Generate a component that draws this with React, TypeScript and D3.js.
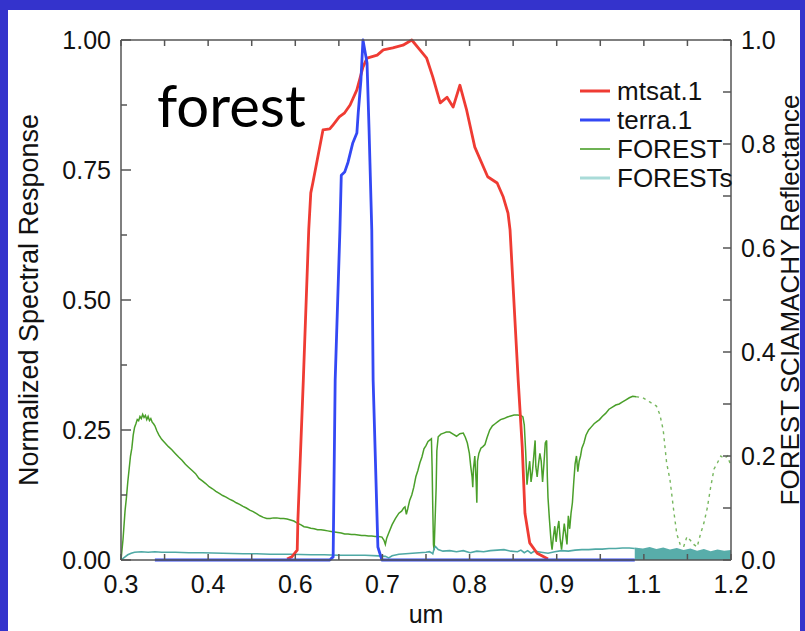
import React from "react";
import * as d3 from "d3";

// ---------- data ----------
const X_DOMAIN: [number, number] = [0.3, 1.2];
const X_TICK_LABELS = ["0.3", "0.4", "0.6", "0.7", "0.8", "0.9", "1.1", "1.2"];
const Y_LEFT_LABELS = ["0.00", "0.25", "0.50", "0.75", "1.00"];
const Y_RIGHT_LABELS = ["0.0", "0.2", "0.4", "0.6", "0.8", "1.0"];
const LEGEND_NAMES = ["mtsat.1", "terra.1", "FOREST", "FORESTs"];

// mtsat.1 normalized spectral response [um, value]
const MTSAT: [number, number][] = [
  [0.545, 0.002], [0.552, 0.006], [0.56, 0.019], [0.561, 0.077], [0.569, 0.346],
  [0.577, 0.635], [0.58, 0.706], [0.583, 0.725], [0.598, 0.827], [0.608, 0.829],
  [0.613, 0.837], [0.622, 0.852], [0.63, 0.86], [0.638, 0.875], [0.648, 0.904],
  [0.657, 0.948], [0.663, 0.965], [0.678, 0.971], [0.687, 0.981], [0.701, 0.985],
  [0.716, 0.99], [0.729, 1.0], [0.741, 0.981], [0.751, 0.965], [0.76, 0.929],
  [0.771, 0.879], [0.781, 0.89], [0.79, 0.871], [0.8, 0.913], [0.81, 0.865],
  [0.822, 0.794], [0.841, 0.737], [0.855, 0.725], [0.864, 0.698], [0.871, 0.667],
  [0.874, 0.635], [0.886, 0.346], [0.892, 0.217], [0.896, 0.09], [0.903, 0.033],
  [0.914, 0.013], [0.93, 0.002],
];

// terra.1 normalized spectral response [um, value]
const TERRA: [number, number][] = [
  [0.35, 0], [0.608, 0], [0.613, 0.006], [0.616, 0.346], [0.623, 0.635],
  [0.625, 0.74], [0.63, 0.746], [0.635, 0.765], [0.642, 0.802], [0.648, 0.821],
  [0.65, 0.86], [0.654, 0.923], [0.657, 1.0], [0.663, 0.956], [0.666, 0.827],
  [0.67, 0.635], [0.672, 0.346], [0.679, 0.025], [0.685, 0], [1.058, 0],
];

// FOREST reflectance [um, value]
const FOREST: [number, number][] = [
  [0.3, 0.0], [0.303, 0.04], [0.306, 0.095], [0.308, 0.12], [0.31, 0.15], [0.312, 0.175],
  [0.314, 0.2], [0.316, 0.215], [0.318, 0.24], [0.32, 0.255], [0.322, 0.262], [0.324, 0.27],
  [0.326, 0.268], [0.328, 0.276], [0.33, 0.272], [0.332, 0.28], [0.334, 0.274], [0.336, 0.278],
  [0.338, 0.27], [0.34, 0.276], [0.342, 0.268], [0.344, 0.272], [0.346, 0.265], [0.348, 0.262],
  [0.35, 0.258], [0.353, 0.248], [0.356, 0.24], [0.36, 0.232], [0.365, 0.225], [0.37, 0.218],
  [0.375, 0.212], [0.38, 0.205], [0.385, 0.198], [0.39, 0.192], [0.395, 0.184], [0.4, 0.178],
  [0.405, 0.172], [0.41, 0.166], [0.415, 0.157], [0.42, 0.152], [0.425, 0.147], [0.43, 0.141],
  [0.435, 0.137], [0.44, 0.132], [0.445, 0.128], [0.45, 0.124], [0.455, 0.121], [0.46, 0.117],
  [0.465, 0.114], [0.47, 0.11], [0.475, 0.107], [0.48, 0.103], [0.485, 0.1], [0.49, 0.096],
  [0.495, 0.093], [0.5, 0.089], [0.505, 0.085], [0.51, 0.082], [0.515, 0.08], [0.52, 0.08],
  [0.525, 0.081], [0.53, 0.081], [0.535, 0.08], [0.54, 0.08], [0.545, 0.079], [0.55, 0.077],
  [0.555, 0.075], [0.56, 0.071], [0.565, 0.068], [0.57, 0.064], [0.575, 0.063], [0.58, 0.061],
  [0.585, 0.06], [0.59, 0.058], [0.595, 0.058], [0.6, 0.057], [0.605, 0.056], [0.61, 0.055],
  [0.615, 0.054], [0.62, 0.053], [0.625, 0.052], [0.63, 0.05], [0.635, 0.05], [0.64, 0.049],
  [0.645, 0.049], [0.65, 0.048], [0.655, 0.047], [0.66, 0.047], [0.665, 0.046], [0.67, 0.046],
  [0.675, 0.045], [0.68, 0.045], [0.685, 0.044], [0.688, 0.038], [0.69, 0.03], [0.692, 0.042],
  [0.695, 0.052], [0.7, 0.068], [0.705, 0.08], [0.71, 0.09], [0.714, 0.094], [0.717, 0.1],
  [0.719, 0.102], [0.721, 0.088], [0.723, 0.098], [0.726, 0.115], [0.729, 0.125], [0.732, 0.14],
  [0.735, 0.16], [0.738, 0.172], [0.741, 0.187], [0.744, 0.198], [0.747, 0.214], [0.75, 0.22],
  [0.753, 0.228], [0.756, 0.231], [0.758, 0.233], [0.759, 0.18], [0.76, 0.1], [0.761, 0.03],
  [0.762, 0.019], [0.763, 0.06], [0.765, 0.14], [0.766, 0.21], [0.768, 0.237], [0.772, 0.242],
  [0.776, 0.244], [0.78, 0.246], [0.785, 0.246], [0.79, 0.242], [0.795, 0.238], [0.8, 0.243],
  [0.805, 0.244], [0.808, 0.236], [0.811, 0.225], [0.814, 0.205], [0.816, 0.18], [0.818, 0.16],
  [0.819, 0.14], [0.82, 0.175], [0.822, 0.2], [0.824, 0.15], [0.825, 0.11], [0.826, 0.19],
  [0.828, 0.205], [0.831, 0.215], [0.834, 0.218], [0.837, 0.222], [0.84, 0.235], [0.844, 0.25],
  [0.848, 0.258], [0.852, 0.262], [0.856, 0.266], [0.86, 0.27], [0.865, 0.272], [0.87, 0.275],
  [0.875, 0.277], [0.88, 0.279], [0.885, 0.279], [0.89, 0.278], [0.893, 0.275], [0.895, 0.26],
  [0.897, 0.21], [0.899, 0.145], [0.901, 0.17], [0.903, 0.19], [0.905, 0.15], [0.907, 0.17],
  [0.909, 0.2], [0.911, 0.23], [0.912, 0.18], [0.914, 0.16], [0.916, 0.185], [0.918, 0.205],
  [0.92, 0.19], [0.922, 0.15], [0.924, 0.185], [0.926, 0.225], [0.928, 0.23], [0.929, 0.16],
  [0.93, 0.12], [0.932, 0.08], [0.934, 0.045], [0.935, 0.03], [0.936, 0.02], [0.938, 0.045],
  [0.94, 0.065], [0.942, 0.035], [0.944, 0.06], [0.946, 0.075], [0.948, 0.04], [0.95, 0.02],
  [0.952, 0.045], [0.954, 0.07], [0.956, 0.05], [0.958, 0.03], [0.96, 0.085], [0.962, 0.06],
  [0.964, 0.09], [0.966, 0.11], [0.968, 0.15], [0.97, 0.185], [0.972, 0.2], [0.974, 0.17],
  [0.976, 0.19], [0.978, 0.2], [0.98, 0.215], [0.983, 0.225], [0.986, 0.24], [0.99, 0.25],
  [0.994, 0.256], [0.998, 0.262], [1.002, 0.266], [1.006, 0.27], [1.01, 0.276], [1.015, 0.282],
  [1.02, 0.29], [1.025, 0.294], [1.03, 0.298], [1.035, 0.3], [1.04, 0.304], [1.045, 0.308],
  [1.05, 0.312], [1.055, 0.315], [1.06, 0.314],
];

// FOREST reflectance, sparse (gappy) part
const FOREST_SPARSE: [number, number][] = [
  [1.06, 0.314], [1.07, 0.312], [1.08, 0.304], [1.09, 0.296], [1.095, 0.28], [1.1, 0.25],
  [1.105, 0.187], [1.11, 0.154], [1.115, 0.1], [1.12, 0.05], [1.125, 0.03], [1.13, 0.025],
  [1.135, 0.045], [1.14, 0.038], [1.145, 0.03], [1.15, 0.025], [1.155, 0.05], [1.16, 0.071],
  [1.165, 0.1], [1.17, 0.14], [1.175, 0.175], [1.18, 0.187], [1.185, 0.2], [1.19, 0.195],
  [1.195, 0.2], [1.2, 0.18],
];

// FORESTs reflectance [um, value]
const FORESTS: [number, number][] = [
  [0.3, 0.0], [0.305, 0.005], [0.31, 0.01], [0.315, 0.013], [0.32, 0.015], [0.33, 0.016],
  [0.34, 0.015], [0.35, 0.016], [0.36, 0.015], [0.38, 0.015], [0.4, 0.014], [0.42, 0.014],
  [0.45, 0.013], [0.48, 0.012], [0.5, 0.012], [0.52, 0.011], [0.55, 0.011], [0.58, 0.01],
  [0.6, 0.01], [0.62, 0.009], [0.64, 0.009], [0.66, 0.009], [0.68, 0.008], [0.69, 0.007],
  [0.695, 0.004], [0.7, 0.008], [0.71, 0.011], [0.72, 0.012], [0.73, 0.013], [0.74, 0.014],
  [0.75, 0.015], [0.755, 0.016], [0.758, 0.014], [0.76, 0.012], [0.762, 0.022], [0.764, 0.026],
  [0.768, 0.02], [0.775, 0.017], [0.785, 0.018], [0.795, 0.016], [0.805, 0.018], [0.815, 0.014],
  [0.825, 0.017], [0.835, 0.016], [0.845, 0.018], [0.855, 0.019], [0.865, 0.02], [0.875, 0.017],
  [0.885, 0.016], [0.89, 0.019], [0.895, 0.014], [0.9, 0.018], [0.905, 0.013], [0.91, 0.017],
  [0.92, 0.015], [0.93, 0.013], [0.94, 0.016], [0.95, 0.018], [0.96, 0.017], [0.97, 0.019],
  [0.98, 0.02], [0.99, 0.02], [1.0, 0.021], [1.01, 0.021], [1.02, 0.022], [1.03, 0.022],
  [1.04, 0.023], [1.05, 0.023], [1.058, 0.022],
];

// FORESTs noisy band (upper envelope) beyond 1.058 um
const FORESTS_BAND: [number, number][] = [
  [1.058, 0.024], [1.07, 0.022], [1.08, 0.025], [1.09, 0.021], [1.1, 0.024], [1.11, 0.02],
  [1.12, 0.023], [1.13, 0.019], [1.14, 0.022], [1.15, 0.018], [1.16, 0.021], [1.17, 0.017],
  [1.18, 0.02], [1.19, 0.018], [1.2, 0.019],
];

// ---------- layout ----------
const W = 805;
const H = 631;
const L = 121, R = 731, T = 40, B = 560;

const COLORS = {
  red: "#ef3b33",
  blue: "#3348f4",
  green: "#4a9f2a",
  teal: "#4fa9a5",
  tealLegend: "#a9dbd8",
  frame: "#3433cc",
  axis: "#555555",
};

const FONT = "'Liberation Sans', Arial, Helvetica, sans-serif";

export default function App() {
  const x = d3.scaleLinear().domain(X_DOMAIN).range([L, R]);
  const yL = d3.scaleLinear().domain([0, 1]).range([B, T]);
  const yR = d3.scaleLinear().domain([0, 1]).range([B, T]);

  const lineL = d3.line<[number, number]>().x((d) => x(d[0])).y((d) => yL(d[1]));
  const lineR = d3.line<[number, number]>().x((d) => x(d[0])).y((d) => yR(d[1]));
  const areaR = d3
    .area<[number, number]>()
    .x((d) => x(d[0]))
    .y0(() => yR(0))
    .y1((d) => yR(d[1]));

  const nX = (X_TICK_LABELS.length - 1) * 2;
  const xTicks = d3.range(nX + 1).map((i) => X_DOMAIN[0] + (i * (X_DOMAIN[1] - X_DOMAIN[0])) / nX);
  const yLTicks = d3.range(9).map((i) => i * 0.125);
  const yRTicks = d3.range(11).map((i) => i * 0.1);

  const legendColors = [COLORS.red, COLORS.blue, COLORS.green, COLORS.tealLegend];
  const legendWidths = [3, 3, 1.6, 3];

  return (
    <svg
      width={W}
      height={H}
      style={{ position: "absolute", left: 0, top: 0, display: "block" }}
      fontFamily={FONT}
    >
      {/* frame */}
      <rect x={0} y={0} width={W} height={H} fill={COLORS.frame} />
      <rect x={8} y={10} width={W - 8 - 5} height={H - 10} fill="#ffffff" />

      {/* data */}
      <path d={lineR(FOREST) || ""} fill="none" stroke={COLORS.green} strokeWidth={1.5} />
      <path
        d={lineR(FOREST_SPARSE) || ""}
        fill="none"
        stroke={COLORS.green}
        strokeWidth={1.4}
        strokeDasharray="3 4"
        opacity={0.75}
      />
      <path d={areaR(FORESTS_BAND) || ""} fill={COLORS.teal} opacity={0.95} />
      <path d={lineR(FORESTS) || ""} fill="none" stroke={COLORS.teal} strokeWidth={1.6} />
      <path d={lineL(MTSAT) || ""} fill="none" stroke={COLORS.red} strokeWidth={2.8} strokeLinejoin="round" />
      <path d={lineL(TERRA) || ""} fill="none" stroke={COLORS.blue} strokeWidth={2.8} strokeLinejoin="round" />

      {/* axes box */}
      <g stroke={COLORS.axis} strokeWidth={1.5} fill="none">
        <line x1={L} y1={T} x2={R} y2={T} />
        <line x1={L} y1={B} x2={R} y2={B} />
        <line x1={L} y1={T} x2={L} y2={B} />
        <line x1={R} y1={T} x2={R} y2={B} />
        {xTicks.map((v, i) => (
          <g key={"xt" + i}>
            <line x1={x(v)} x2={x(v)} y1={B} y2={B - 6} />
            <line x1={x(v)} x2={x(v)} y1={T} y2={T + 6} />
          </g>
        ))}
        {yLTicks.map((v, i) => (
          <line key={"yl" + i} x1={L} x2={L + (i % 2 === 0 ? 10 : 6)} y1={yL(v)} y2={yL(v)} />
        ))}
        {yRTicks.map((v, i) => (
          <line key={"yr" + i} x1={R} x2={R - 8} y1={yR(v)} y2={yR(v)} />
        ))}
      </g>

      {/* tick labels */}
      <g fontSize={25} fill="#111">
        {X_TICK_LABELS.map((s, i) => (
          <text key={"xl" + i} x={x(xTicks[i * 2])} y={593} textAnchor="middle">
            {s}
          </text>
        ))}
        {Y_LEFT_LABELS.map((s, i) => (
          <text key={"yll" + i} x={111} y={yL(i * 0.25) + 9} textAnchor="end">
            {s}
          </text>
        ))}
        {Y_RIGHT_LABELS.map((s, i) => (
          <text key={"yrl" + i} x={741} y={yR(i * 0.2) + 9} textAnchor="start">
            {s}
          </text>
        ))}
      </g>

      {/* axis titles */}
      <text x={(L + R) / 2 + 0} y={623} fontSize={25} textAnchor="middle" fill="#111">
        um
      </text>
      <text
        transform="translate(38,300) rotate(-90)"
        fontSize={27}
        textAnchor="middle"
        fill="#111"
      >
        Normalized Spectral Response
      </text>
      <text
        transform="translate(799,300) rotate(-90)"
        fontSize={26}
        textAnchor="middle"
        fill="#111"
      >
        FOREST SCIAMACHY Reflectance
      </text>

      {/* annotation */}
      <text
        x={157}
        y={127}
        fontSize={58}
        fontFamily="Lato, 'Open Sans', sans-serif"
        fill="#000"
      >
        forest
      </text>

      {/* legend */}
      {LEGEND_NAMES.map((name, i) => {
        const cy = 91 + i * 29;
        return (
          <g key={"lg" + i}>
            <line x1={580} x2={610} y1={cy} y2={cy} stroke={legendColors[i]} strokeWidth={legendWidths[i]} />
            <text x={617} y={cy + 9} fontSize={26} fill="#111">
              {name}
            </text>
          </g>
        );
      })}
    </svg>
  );
}
